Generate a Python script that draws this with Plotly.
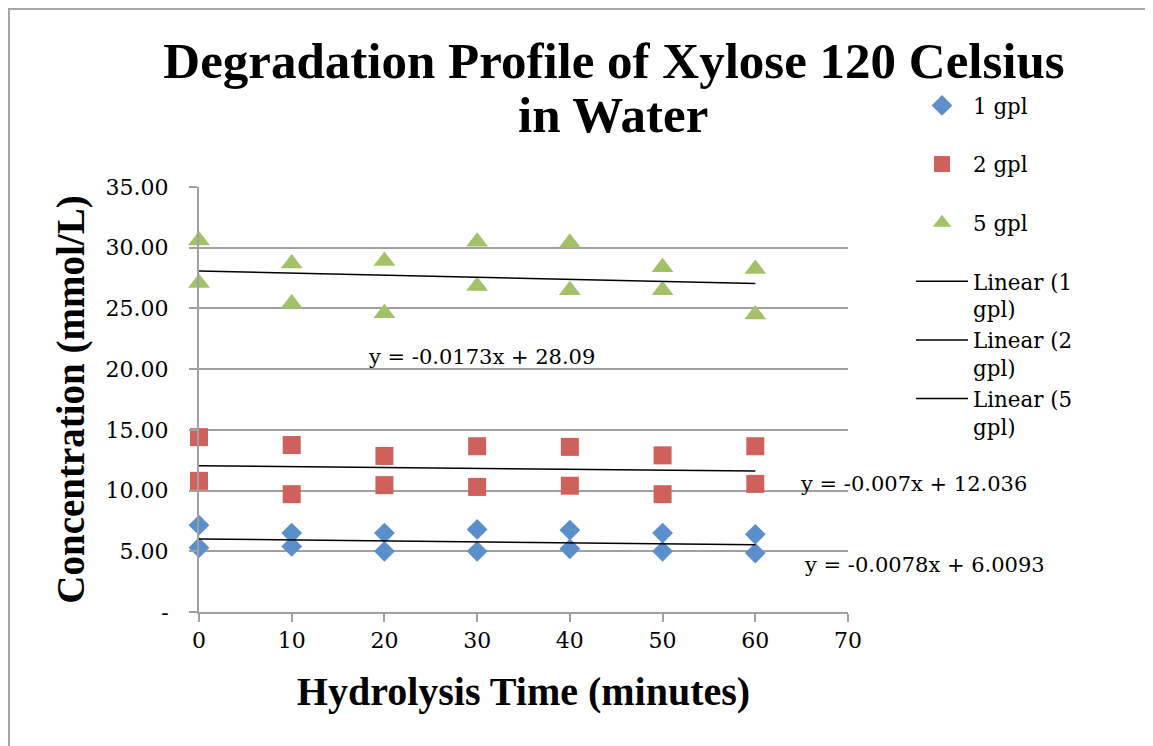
import plotly.graph_objects as go

# ---- data ----
time_min = [0, 0, 10, 10, 20, 20, 30, 30, 40, 40, 50, 50, 60, 60]
conc_1gpl = [7.15, 5.3, 6.5, 5.4, 6.5, 5.0, 6.8, 5.0, 6.75, 5.2, 6.5, 5.0, 6.4, 4.85]
conc_2gpl = [14.4, 10.8, 13.75, 9.7, 12.85, 10.45, 13.65, 10.3, 13.6, 10.4, 12.9, 9.7, 13.65, 10.55]
conc_5gpl = [30.6, 27.1, 28.7, 25.4, 28.9, 24.6, 30.5, 26.85, 30.4, 26.5, 28.4, 26.5, 28.25, 24.5]

series_names = ["1 gpl", "2 gpl", "5 gpl"]
trend_names = ["Linear (1<br>gpl)", "Linear (2<br>gpl)", "Linear (5<br>gpl)"]
trend_slopes = [-0.0078, -0.007, -0.0173]
trend_intercepts = [6.0093, 12.036, 28.09]
trend_labels = ["y = -0.0078x + 6.0093", "y = -0.007x + 12.036", "y = -0.0173x + 28.09"]
trend_x = [0, 60]

y_tick_vals = [0, 5, 10, 15, 20, 25, 30, 35]
y_tick_text = ["-", "5.00", "10.00", "15.00", "20.00", "25.00", "30.00", "35.00"]
x_tick_vals = [0, 10, 20, 30, 40, 50, 60, 70]

colors = ["#5B8FCB", "#CF605B", "#A3C267"]
symbols = ["diamond", "square", "triangle-up"]
sizes = [16, 18, 19]
SERIF = "DejaVu Serif"
TITLEFONT = "Liberation Serif"

W, H = 1145, 738
L, T, PW, PH = 191, 179, 649, 425

fig = go.Figure()
for i, ys in enumerate([conc_1gpl, conc_2gpl, conc_5gpl]):
    fig.add_trace(go.Scatter(
        x=time_min, y=ys, mode="markers", name=series_names[i] + "<br> ",
        marker=dict(symbol=symbols[i], color=colors[i], size=sizes[i], line=dict(width=0)),
        cliponaxis=False,
    ))
for i in range(3):
    ty = [trend_slopes[i] * x + trend_intercepts[i] for x in trend_x]
    fig.add_trace(go.Scatter(
        x=trend_x, y=ty, mode="lines", name=trend_names[i],
        line=dict(color="black", width=1.5),
    ))

fig.update_layout(
    width=W, height=H,
    margin=dict(l=L, r=W - L - PW, t=T, b=H - T - PH),
    paper_bgcolor="white", plot_bgcolor="white",
    font=dict(family=SERIF, color="black", size=22),
    title=dict(
        text="<b>Degradation Profile of Xylose 120 Celsius</b>",
        x=606 / W, xanchor="center", xref="container",
        y=1 - 52 / H, yanchor="middle", yref="container",
        font=dict(family=TITLEFONT, size=51, color="black"),
    ),
    xaxis=dict(
        range=[0, 70], tickvals=x_tick_vals, showgrid=False, zeroline=False,
        showline=True, linecolor="#A0A0A0", linewidth=2,
        ticks="outside", ticklen=8, tickcolor="#A0A0A0", tickwidth=2,
        tickfont=dict(size=22), automargin=False,
        title=dict(text="<b>Hydrolysis Time (minutes)</b>",
                   font=dict(family=TITLEFONT, size=40), standoff=25),
    ),
    yaxis=dict(
        range=[0, 35], tickvals=y_tick_vals, ticktext=y_tick_text,
        showgrid=True, gridcolor="#A0A0A0", gridwidth=2, zeroline=False,
        showline=True, linecolor="#A0A0A0", linewidth=2,
        ticks="outside", ticklen=8, tickcolor="#A0A0A0", tickwidth=2,
        tickfont=dict(size=22), ticklabelstandoff=16, automargin=False,
        title=dict(text="<b>Concentration (mmol/L)</b>",
                   font=dict(family=TITLEFONT, size=39), standoff=9),
    ),
    legend=dict(
        xref="container", yref="container",
        x=903 / W, xanchor="left", y=1 - 77 / H, yanchor="top",
        valign="top", font=dict(size=21.4), traceorder="normal",
        itemwidth=52, bgcolor="rgba(0,0,0,0)", maxheight=600,
    ),
    showlegend=True,
)

# second title line
fig.add_annotation(xref="paper", yref="paper", x=(605 - L) / PW, y=(T + PH - 107) / PH,
                   text="<b>in Water</b>", showarrow=False, xanchor="center", yanchor="middle",
                   font=dict(family=TITLEFONT, size=51, color="black"))

# trendline equation labels
fig.add_annotation(x=30.5, y=21.0, text=trend_labels[2], showarrow=False,
                   xanchor="center", yanchor="middle", font=dict(size=21))
fig.add_annotation(x=64.6, y=10.55, text=trend_labels[1], showarrow=False,
                   xanchor="left", yanchor="middle", font=dict(size=21))
fig.add_annotation(x=65.0, y=3.9, text=trend_labels[0], showarrow=False,
                   xanchor="left", yanchor="middle", font=dict(size=21))

# outer chart frame
fig.add_shape(type="rect", xref="paper", yref="paper",
              x0=(1 - L) / PW, x1=(W + 20 - L) / PW,
              y0=(T + PH - H - 20) / PH, y1=(T + PH - 1) / PH,
              line=dict(color="#A6A6A6", width=2), layer="below")

fig.write_html("out.html")
